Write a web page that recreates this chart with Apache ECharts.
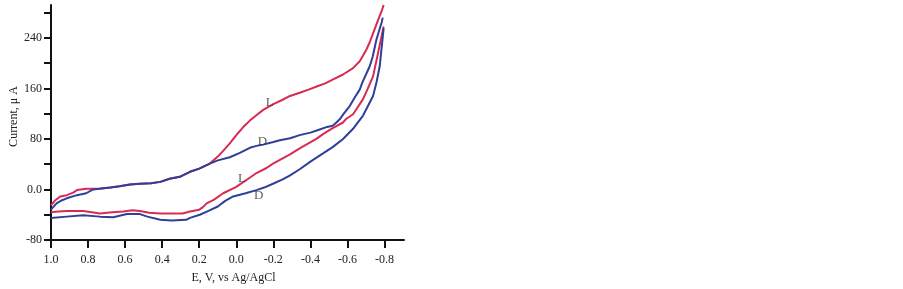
<!DOCTYPE html>
<html>
<head>
<meta charset="utf-8">
<script src="https://cdn.jsdelivr.net/npm/echarts@6/dist/echarts.min.js"></script>
<style>
html,body{margin:0;padding:0;background:#fff;}
#chart{width:903px;height:289px;}
</style>
</head>
<body>
<div id="chart"></div>
<script>
// Potential ticks (V vs Ag/AgCl) and current ticks (uA)
const xTickValues = [1.0, 0.8, 0.6, 0.4, 0.2, 0.0, -0.2, -0.4, -0.6, -0.8];
const yTickValues = [-80, -40, 0, 40, 80, 120, 160, 200, 240, 280];
const yLabelValues = [-80, 0, 80, 160, 240];

// Red loop (L): forward branch (upper) from 1.0 V to -0.8 V
const redUpper = [
  [1.0,-25],[0.98,-18],[0.95,-11],[0.915,-9],[0.88,-5],[0.86,-1],[0.81,1],[0.79,1],[0.74,1],
  [0.68,3],[0.63,5],[0.574,8],[0.52,9],[0.46,10],[0.41,12],[0.36,17],[0.305,20],[0.25,28],
  [0.2,33],[0.143,41],[0.1,52],[0.071,61],[0.035,73],[0.0,86],[-0.035,98],[-0.073,109],
  [-0.11,118],[-0.145,126],[-0.2,135],[-0.25,142],[-0.29,148],[-0.342,153],[-0.39,158],
  [-0.434,163],[-0.48,168],[-0.52,174],[-0.576,182],[-0.63,192],[-0.666,203],[-0.684,212],
  [-0.703,222],[-0.72,233],[-0.738,247],[-0.765,268],[-0.785,283],[-0.795,292]
];
// Red loop (L): return branch (lower) from -0.8 V back to 1.0 V
const redLower = [
  [-0.795,258],[-0.765,216],[-0.738,179],[-0.71,160],[-0.684,143],[-0.63,119],[-0.594,112],
  [-0.576,106],[-0.52,97],[-0.47,88],[-0.432,80],[-0.342,65],[-0.288,55],[-0.198,41],
  [-0.163,34],[-0.109,26],[-0.055,15],[-0.019,8],[0.0,4],[0.071,-6],[0.12,-16],[0.16,-22],
  [0.18,-28],[0.2,-32],[0.25,-35],[0.29,-38],[0.35,-38],[0.41,-38],[0.47,-37],[0.52,-34],
  [0.56,-33],[0.61,-35],[0.67,-36],[0.736,-38],[0.78,-36],[0.826,-34],[0.87,-34],[0.915,-34],
  [0.96,-35],[1.0,-36]
];
// Blue loop (D): forward branch (upper)
const blueUpper = [
  [1.0,-32],[0.97,-22],[0.94,-17],[0.915,-14],[0.86,-9],[0.81,-6],[0.78,-1],[0.76,0.5],[0.74,1],
  [0.68,3],[0.63,5],[0.574,8],[0.52,9],[0.46,10],[0.41,12],[0.36,17],[0.305,20],[0.25,28],
  [0.2,33],[0.143,41],[0.1,46],[0.035,51],[-0.019,58],[-0.073,66],[-0.109,69],[-0.145,71],
  [-0.2,75],[-0.235,78],[-0.29,81],[-0.342,86],[-0.4,90],[-0.45,95],[-0.49,99],[-0.52,101],
  [-0.54,106],[-0.558,111],[-0.58,120],[-0.612,132],[-0.64,146],[-0.666,158],[-0.68,169],
  [-0.72,195],[-0.736,210],[-0.756,237],[-0.785,265],[-0.79,272]
];
// Blue loop (D): return branch (lower)
const blueLower = [
  [-0.795,255],[-0.774,195],[-0.757,170],[-0.738,148],[-0.684,117],[-0.63,96],[-0.576,80],
  [-0.52,67],[-0.468,57],[-0.4,44],[-0.342,32],[-0.288,22],[-0.25,16],[-0.198,9],[-0.15,3],
  [-0.109,-1],[-0.05,-6],[0.017,-11],[0.06,-18],[0.1,-27],[0.15,-34],[0.197,-40],[0.25,-45],
  [0.27,-48],[0.35,-49],[0.41,-48],[0.48,-43],[0.52,-39],[0.59,-39],[0.664,-44],[0.736,-43],
  [0.826,-41],[0.915,-43],[1.0,-45]
];
// Curve labels
const curveLabels = [
  {name:'L', value:[-0.181,138]},
  {name:'D', value:[-0.141,76]},
  {name:'L', value:[-0.030,17]},
  {name:'D', value:[-0.121,-9]}
];

const RED = '#d92a52';
const BLUE = '#2f3f98';
const FONT = 'Liberation Serif';

const chart = echarts.init(document.getElementById('chart'));
function lineSeries(data, color) {
  return {
    type: 'line', data: data, showSymbol: false, symbol: 'none', smooth: false,
    lineStyle: {color: color, width: 2}, silent: true, z: 3
  };
}
chart.setOption({
  animation: false,
  backgroundColor: '#fff',
  grid: {left: 51, right: 499, top: 5, bottom: 48, containLabel: false},
  xAxis: {
    type: 'value', inverse: true, min: -0.905, max: 1.0,
    name: 'E, V, vs Ag/AgCl', nameLocation: 'middle', nameGap: 32,
    nameTextStyle: {fontFamily: FONT, fontSize: 12, color: '#222', padding: [0,0,0,12]},
    axisLine: {show: true, onZero: false, lineStyle: {color: '#111', width: 2}},
    axisTick: {show: true, length: 8, lineStyle: {color: '#111', width: 2}, customValues: xTickValues},
    axisLabel: {
      fontFamily: FONT, fontSize: 12, color: '#222', margin: 14,
      customValues: xTickValues,
      formatter: v => (Math.abs(v) < 1e-9 ? '0.0' : v.toFixed(1))
    },
    splitLine: {show: false}
  },
  yAxis: {
    type: 'value', min: -80, max: 292,
    name: 'Current, \u03bc A', nameLocation: 'middle', nameGap: 29, nameRotate: 90,
    nameTextStyle: {fontFamily: FONT, fontSize: 12, color: '#222', padding: [0,0,0,12]},
    axisLine: {show: true, onZero: false, lineStyle: {color: '#111', width: 2}},
    axisTick: {show: true, length: 7, lineStyle: {color: '#111', width: 2}, customValues: yTickValues},
    axisLabel: {
      fontFamily: FONT, fontSize: 12, color: '#222', margin: 9,
      customValues: yLabelValues,
      formatter: v => (v === 0 ? '0.0' : String(v))
    },
    splitLine: {show: false}
  },
  series: [
    lineSeries(redUpper, RED),
    lineSeries(redLower, RED),
    lineSeries(blueUpper, BLUE),
    lineSeries(blueLower, BLUE),
    {
      type: 'scatter', data: curveLabels, symbolSize: 0, silent: true, z: 5,
      label: {show: true, position: 'inside', formatter: '{b}', fontFamily: FONT, fontSize: 13, color: '#333'}
    }
  ]
});
</script>
</body>
</html>
